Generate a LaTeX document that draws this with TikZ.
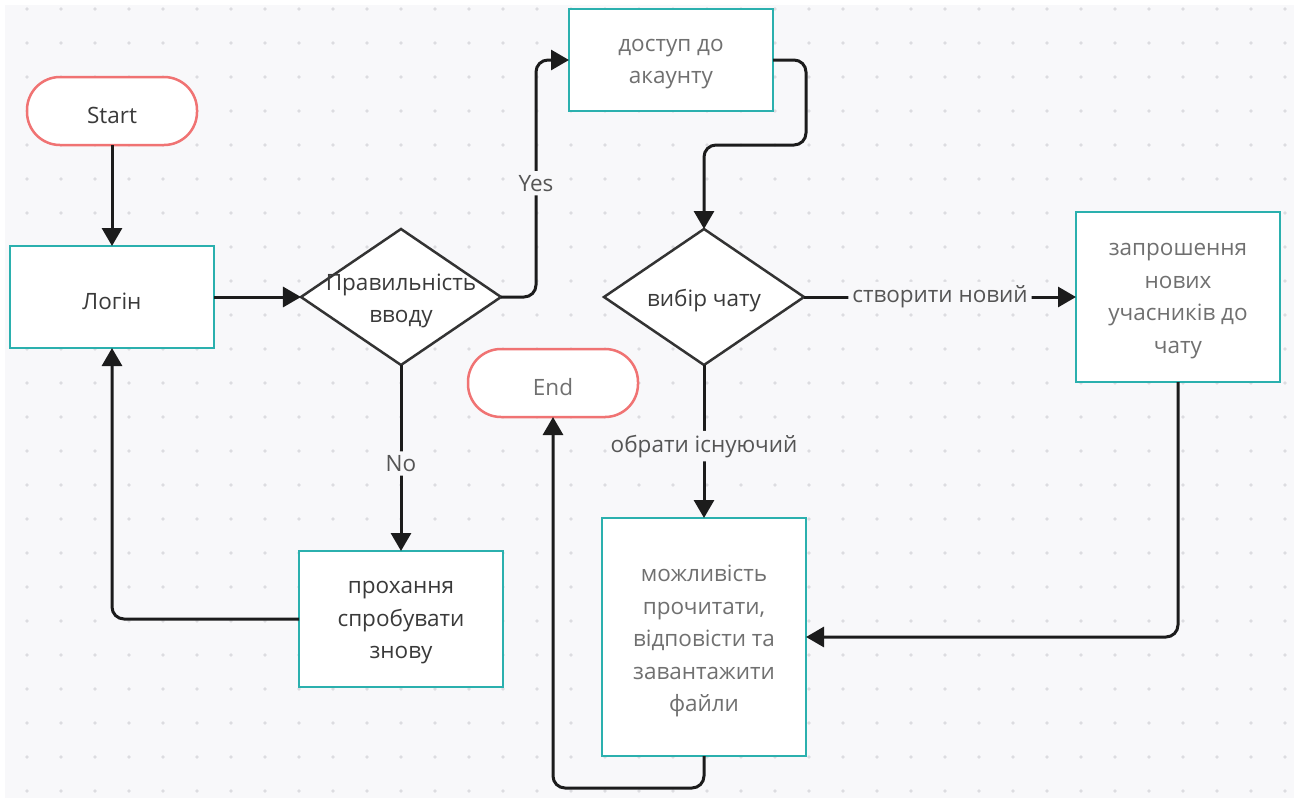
\documentclass[tikz,border=0pt]{standalone}
\usepackage{fontspec}
\setmainfont{Open Sans}
\usepackage{tikz}
\usetikzlibrary{shapes.geometric, arrows.meta, positioning}
\usepackage{xcolor}

\definecolor{canvasbg}{HTML}{F8F8FA}
\definecolor{dotgray}{HTML}{DCDCE0}
\definecolor{termred}{HTML}{F07373}
\definecolor{procteal}{HTML}{2BB0AE}
\definecolor{decgray}{HTML}{333333}
\definecolor{linkblack}{HTML}{1C1C1C}
\definecolor{txtdark}{HTML}{3A3A3A}
\definecolor{txtgray}{HTML}{707070}
\definecolor{txtlabel}{HTML}{555555}

\begin{document}
\begin{tikzpicture}[
    x=1pt, y=-1pt,
    every node/.style={font=\fontsize{22.5pt}{32.5pt}\selectfont, align=center},
    terminal/.style={
        rectangle, draw=termred, fill=white, line width=2.5pt, outer sep=0pt,
        rounded corners=33pt, minimum width=170pt, minimum height=68pt
    },
    process/.style={
        rectangle, draw=procteal, fill=white, line width=2.8pt, outer sep=0pt,
        minimum width=204pt, minimum height=#1, inner sep=0pt
    },
    process/.default=102pt,
    decision/.style={
        diamond, draw=decgray, fill=white, line width=2.5pt, outer sep=0pt,
        minimum width=200pt, minimum height=136pt, inner sep=0pt
    },
    ttl/.style={label={[text=txtdark, yshift=-4pt]center:#1}},
    ttlg/.style={label={[text=txtgray, yshift=-4pt]center:#1}},
    arr/.style={-{Triangle[length=18pt, width=20pt]}, line width=3pt,
        linkblack, rounded corners=12pt},
    lbl/.style={fill=canvasbg, text=txtlabel, inner sep=4pt}
]
    %% --- Canvas ---
    \useasboundingbox (0,0) rectangle (1294,798);
    \fill[white] (0,0) rectangle (1294,798);
    \fill[canvasbg] (5,5) rectangle (1294,798);
    \foreach \i in {0,...,37}
        \foreach \j in {0,...,23}
            \fill[dotgray] (27+34*\i, 9+34*\j) circle (1.8pt);

    %% --- Left: Login loop ---
    \node[terminal, ttl={Start}] (start) at (112,111) {};
    \node[process, below=101pt of start, ttl={Логін}] (login) {};
    \node[decision, right=87pt of login, ttl={Правильність\\вводу}] (check) {};
    \node[process=136pt, below=186pt of check,
          ttl={прохання\\спробувати\\знову}] (retry) {};

    %% --- Middle: Account and chat ---
    \node[process, ttlg={доступ до\\акаунту}] (access) at (671,60) {};
    \node[decision, right=103pt of check, ttl={вибір чату}] (choice) {};
    \node[process=238pt, below=153pt of choice,
          ttlg={можливість\\прочитати,\\відповісти та\\завантажити\\файли}] (chat) {};
    \node[terminal, ttlg={End}] (finish) at (553,383) {};

    %% --- Right: New chat ---
    \node[process=170pt, right=272pt of choice,
          ttlg={запрошення\\нових\\учасників до\\чату}] (invite) {};

    %% --- Arrows ---
    \draw[arr] (start) -- (login);
    \draw[arr] (login) -- (check);
    \draw[arr] (check.east) -- ++(35,0) |- node[pos=0.24, lbl] {Yes} (access.west);
    \draw[arr] (check) -- node[pos=0.53, lbl] {No} (retry);
    \draw[arr] (retry.west) -| (login.south);
    \draw[arr] (access.east) -| ++(33,85) -| (choice.north);
    \draw[arr] (choice) -- node[lbl] {створити новий} (invite);
    \draw[arr] (choice) -- node[pos=0.53, lbl] {обрати існуючий} (chat);
    \draw[arr] (invite.south) |- (chat.east);
    \draw[arr] (chat.south) -- ++(0,32) -| (finish.south);
\end{tikzpicture}
\end{document}
